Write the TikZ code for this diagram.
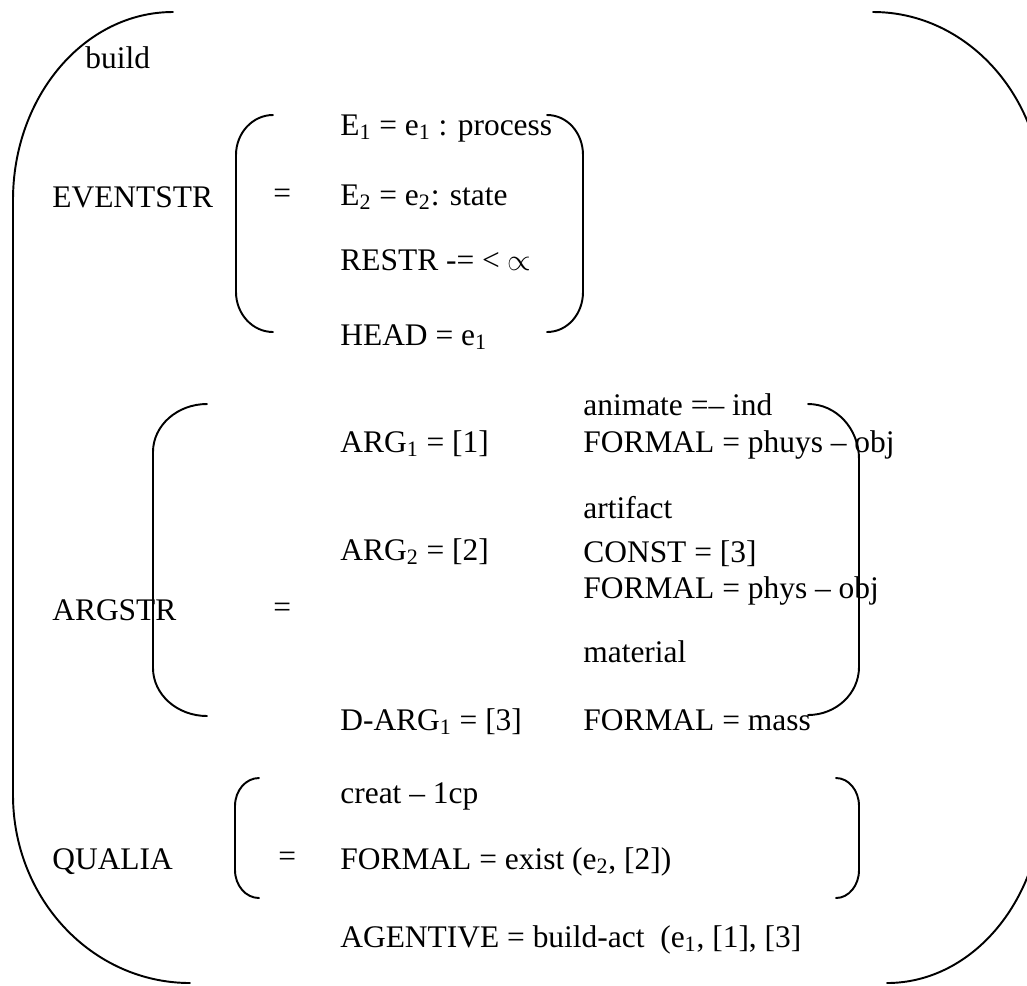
\documentclass[tikz,border=0pt]{standalone}
\usepackage{fontspec}
\setmainfont{Liberation Serif}
\usepackage{tikz}
\newcommand{\lo}[1]{\textsubscript{#1}}
\newcommand{\qsfont}{\fontsize{17.9}{20}\selectfont}
\tikzset{
  feat/.style={
    anchor=base west, inner sep=0pt, font=\qsfont
  },
  brack/.style={
    draw=black, line width=1.1pt, line cap=round
  }
}
\begin{document}
\begin{tikzpicture}[x=0.02cm, y=-0.02cm]
  \useasboundingbox (0,0) rectangle (1027,985);
  \clip (0,0) rectangle (1027,985);
  % column positions
  \def\xlab{52}  \def\xeq{273}  \def\xmid{340}  \def\xright{583}

  % outer brackets
  \draw[brack] (173,12) .. controls (84.7,12) and (13,96.2) .. (13,200)
    -- (13,795) .. controls (13,898.8) and (92.3,983) .. (190,983);
  \draw[brack] (873,12) .. controls (966.8,12) and (1043,96.2) .. (1043,200)
    -- (1043,795) .. controls (1043,898.8) and (973.1,983) .. (887,983);

  \node[feat] (build) at (85,68) {build};

  % EVENTSTR
  \node[feat] (evt) at (\xlab,207) {EVENTSTR};
  \node[feat] (evteq) at (\xeq,203) {=};
  \node[feat] (e1) at (\xmid,135) {E\lo{1} = e\lo{1} : process};
  \node[feat] (e2) at (\xmid,205) {E\lo{2} = e\lo{2}: state};
  \node[feat] (restr) at (\xmid,270) {RESTR -= < $\propto$};
  \node[feat] (head) at (\xmid,345) {HEAD = e\lo{1}};
  \draw[brack] (273,115) .. controls (252.6,115) and (236,133) .. (236,155)
    -- (236,292) .. controls (236,314) and (252.6,332) .. (273,332);
  \draw[brack] (547,115) .. controls (567.4,115) and (583,133) .. (583,155)
    -- (583,292) .. controls (583,314) and (567.4,332) .. (547,332);

  % ARGSTR
  \node[feat] (arg) at (\xlab,620) {ARGSTR};
  \node[feat] (argeq) at (\xeq,617) {=};
  \node[feat] (arg1) at (\xmid,452) {ARG\lo{1} = [1]};
  \node[feat] (arg2) at (\xmid,560) {ARG\lo{2} = [2]};
  \node[feat] (darg) at (\xmid,730) {D-ARG\lo{1} = [3]};
  \node[feat] (anim) at (\xright,415) {animate =-- ind};
  \node[feat] (form1) at (\xright,452) {FORMAL = phuys -- obj};
  \node[feat] (artif) at (\xright,518) {artifact};
  \node[feat] (const) at (\xright,562) {CONST = [3]};
  \node[feat] (form2) at (\xright,598) {FORMAL = phys -- obj};
  \node[feat] (mater) at (\xright,662) {material};
  \node[feat] (form3) at (\xright,730) {FORMAL = mass};
  \draw[brack] (207,404) .. controls (177.2,404) and (153,425.5) .. (153,452)
    -- (153,668) .. controls (153,694.5) and (177.2,716) .. (207,716);
  \draw[brack] (808,404) .. controls (836.2,404) and (859,428.6) .. (859,459)
    -- (859,667) .. controls (859,693.5) and (836.2,715) .. (808,715);

  % QUALIA
  \node[feat] (qual) at (\xlab,869) {QUALIA};
  \node[feat] (qualeq) at (278,866) {=};
  \node[feat] (creat) at (\xmid,803) {creat -- 1cp};
  \node[feat] (form4) at (\xmid,869) {FORMAL = exist (e\lo{2}, [2])};
  \node[feat] (agent) at (\xmid,947) {AGENTIVE = build-act\ \ (e\lo{1}, [1], [3]};
  \draw[brack] (259,778) .. controls (245.8,778) and (235,790.5) .. (235,806)
    -- (235,870) .. controls (235,885.5) and (245.8,898) .. (259,898);
  \draw[brack] (836,778) .. controls (848.7,778) and (859,790.5) .. (859,806)
    -- (859,870) .. controls (859,885.5) and (848.7,898) .. (836,898);
\end{tikzpicture}
\end{document}
